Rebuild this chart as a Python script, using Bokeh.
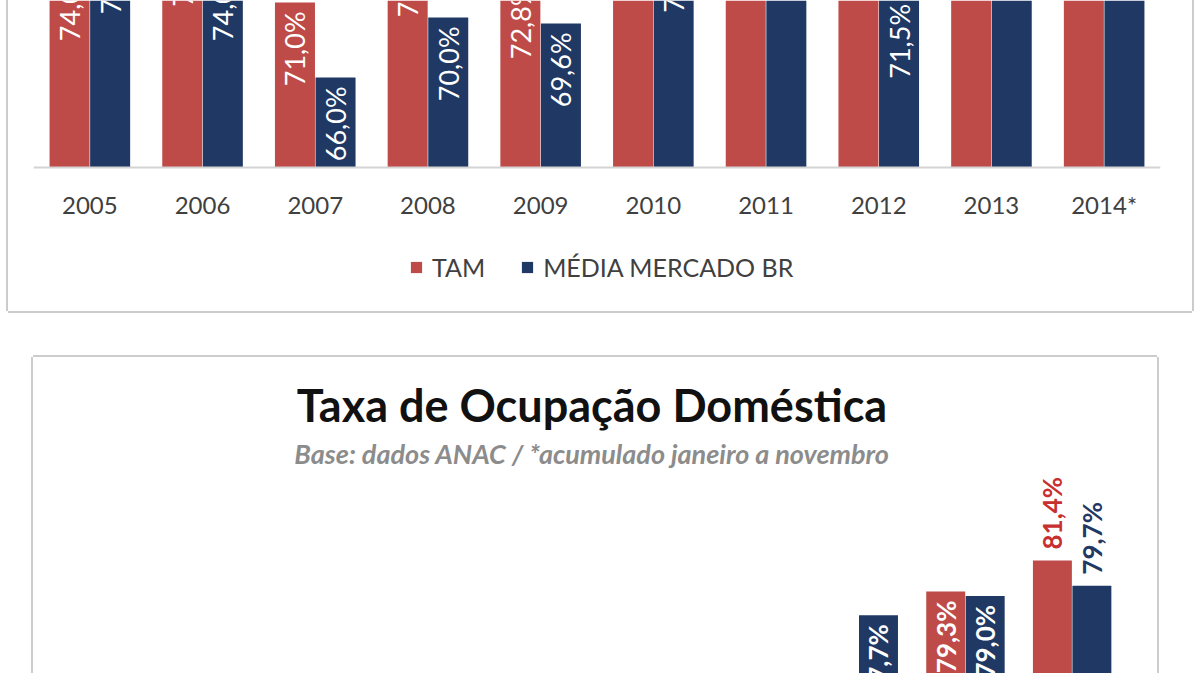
import math
from bokeh.plotting import figure
from bokeh.models import FactorRange, Range1d, ColumnDataSource, Legend, LegendItem, Title
from bokeh.transform import dodge
from bokeh.layouts import column
from bokeh.embed import file_html
from bokeh.resources import INLINE
from bokeh.core.properties import value

# ---------------- data ----------------
years = ["2005", "2006", "2007", "2008", "2009", "2010", "2011", "2012", "2013", "2014*"]
series_names = ["TAM", "MÉDIA MERCADO BR"]

# upper chart (its top is cut off in the picture; hidden values estimated)
tam_total = [74.0, 76.3, 71.0, 75.6, 72.8, 80.0, 81.0, 82.0, 83.0, 84.0]
media_total = [75.8, 74.0, 66.0, 70.0, 69.6, 75.9, 79.0, 71.5, 80.0, 82.0]

# lower chart "Taxa de Ocupação Doméstica" (its bottom is cut off; hidden values estimated)
tam_dom = [70.0, 69.5, 70.5, 69.0, 66.5, 68.5, 71.5, 72.5, 79.3, 81.4]
media_dom = [70.5, 67.5, 65.5, 68.5, 66.0, 69.0, 72.0, 77.7, 79.0, 79.7]

title_text = "Taxa de Ocupação Doméstica"
subtitle_text = "Base: dados ANAC / *acumulado janeiro a novembro"


def fmt(v):
    return f"{v:.1f}%".replace(".", ",")


RED = "#BE4B48"
BLUE = "#1F3864"
RED_LBL = "#C8302F"
TXT = "#404040"
FONT = "Lato"
BASE = 60

# ---------------- upper chart ----------------
src1 = ColumnDataSource(dict(
    years=years, tam=tam_total, media=media_total,
    tam_lbl=[fmt(v) for v in tam_total], media_lbl=[fmt(v) for v in media_total],
))

p1 = figure(x_range=FactorRange(factors=years), y_range=Range1d(50.40, 71.13),
            width=1184, height=311,
            x_axis_location="below", y_axis_location=None,
            toolbar_location=None, output_backend="svg",
            min_border_left=25, min_border_right=28, min_border_top=0, min_border_bottom=0,
            title=None)
p1.margin = (0, 0, 0, 8)
p1.styles = {"box-shadow": "-2px 0 0 0 #cccccc, 2px 0 0 0 #cccccc, 0 2px 0 0 #cccccc"}
p1.outline_line_color = None
p1.xgrid.visible = False
p1.ygrid.visible = False

r_tam = p1.vbar(x=dodge("years", -0.18, range=p1.x_range), top="tam", bottom=BASE, width=0.355,
                source=src1, fill_color=RED, line_color=None)
r_med = p1.vbar(x=dodge("years", 0.18, range=p1.x_range), top="media", bottom=BASE, width=0.355,
                source=src1, fill_color=BLUE, line_color=None)

for key, off in (("tam_lbl", -0.18), ("media_lbl", 0.18)):
    p1.text(x=dodge("years", off, range=p1.x_range), y=key.replace("_lbl", ""), text=key,
            source=src1, angle=math.pi / 2, text_align="right", text_baseline="middle",
            y_offset=9, text_color="white", text_font=value(FONT), text_font_size="27px")

ax = p1.xaxis[0]
ax.fixed_location = BASE
ax.major_tick_line_color = None
ax.minor_tick_line_color = None
ax.axis_line_color = "#d4d4d4"
ax.axis_line_width = 2
ax.major_label_standoff = 17
ax.major_label_text_font = FONT
ax.major_label_text_font_size = "24px"
ax.major_label_text_color = TXT

legend = Legend(items=[LegendItem(label=series_names[0], renderers=[r_tam]),
                       LegendItem(label=series_names[1], renderers=[r_med])],
                orientation="horizontal", location=(376, 29),
                label_text_font=FONT, label_text_font_size="25px", label_text_color=TXT,
                glyph_width=14, glyph_height=14, label_standoff=9, spacing=35,
                border_line_color=None, background_fill_color=None, padding=0, margin=0)
p1.add_layout(legend)

# ---------------- lower chart ----------------
n_in = len(years) - 1
src2_in = ColumnDataSource(dict(
    years=years[:n_in], tam=tam_dom[:n_in], media=media_dom[:n_in],
    tam_lbl=[fmt(v) for v in tam_dom[:n_in]], media_lbl=[fmt(v) for v in media_dom[:n_in]],
))
src2_out = ColumnDataSource(dict(
    years=years[n_in:], tam=tam_dom[n_in:], media=media_dom[n_in:],
    tam_lbl=[fmt(v) for v in tam_dom[n_in:]], media_lbl=[fmt(v) for v in media_dom[n_in:]],
))
src2 = ColumnDataSource(dict(years=years, tam=tam_dom, media=media_dom))

p2 = figure(x_range=FactorRange(factors=years), y_range=Range1d(73.76, 87.28),
            width=1124, height=316,
            x_axis_location=None, y_axis_location=None,
            toolbar_location=None, output_backend="svg",
            min_border_left=25, min_border_right=32, min_border_top=116, min_border_bottom=0,
            title=None)
p2.styles = {"box-shadow": "-2px 0 0 0 #cccccc, 2px 0 0 0 #cccccc, 0 -2px 0 0 #cccccc"}
p2.outline_line_color = None
p2.xgrid.visible = False
p2.ygrid.visible = False
p2.margin = (46, 0, 0, 33)

p2.vbar(x=dodge("years", -0.185, range=p2.x_range), top="tam", bottom=BASE, width=0.365,
        source=src2, fill_color=RED, line_color=None)
p2.vbar(x=dodge("years", 0.185, range=p2.x_range), top="media", bottom=BASE, width=0.365,
        source=src2, fill_color=BLUE, line_color=None)

for key, off in (("tam_lbl", -0.185), ("media_lbl", 0.185)):
    p2.text(x=dodge("years", off, range=p2.x_range), y=key.replace("_lbl", ""), text=key,
            source=src2_in, angle=math.pi / 2, text_align="right", text_baseline="middle",
            y_offset=9, text_color="white", text_font=value(FONT), text_font_size="26px",
            text_font_style="bold")
for key, off, col in (("tam_lbl", -0.185, RED_LBL), ("media_lbl", 0.185, BLUE)):
    p2.text(x=dodge("years", off, range=p2.x_range), y=key.replace("_lbl", ""), text=key,
            source=src2_out, angle=math.pi / 2, text_align="left", text_baseline="middle",
            y_offset=-11, text_color=col, text_font=value(FONT), text_font_size="26px",
            text_font_style="bold")

p2.add_layout(Title(text=subtitle_text, align="center", text_font=FONT, text_font_size="27px",
                    text_font_style="bold italic", text_color="#8c8c8c", standoff=8), "above")
p2.add_layout(Title(text=title_text, align="center", text_font=FONT, text_font_size="45px",
                    text_font_style="bold", text_color="#111111", standoff=-3, offset=0), "above")

layout = column(p1, p2, spacing=0)
open("out.html", "w").write(file_html(layout, INLINE))
